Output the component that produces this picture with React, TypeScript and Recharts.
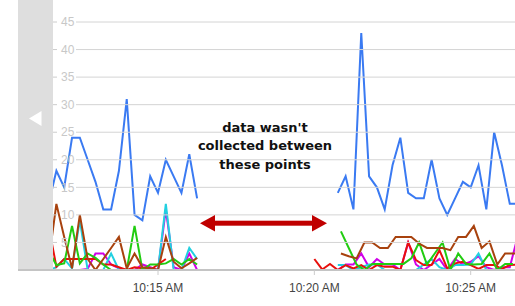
import { LineChart, Line, XAxis, YAxis } from 'recharts';

const LEFT_TIMES = [690, 705, 720, 735, 750, 765, 780, 795, 810, 825, 840, 855, 870, 885, 900, 915, 930, 945, 960, 975];
const RIGHT_TIMES = [1200, 1215, 1230, 1245, 1260, 1275, 1290, 1305, 1320, 1335, 1350, 1365, 1380, 1395, 1410, 1425, 1440, 1455, 1470, 1485, 1500, 1515, 1530, 1545, 1560, 1575, 1590];
const RIGHT_TIMES_LAG = [1206, 1221, 1236, 1251, 1266, 1281, 1296, 1311, 1326, 1341, 1356, 1371, 1386, 1401, 1416, 1431, 1446, 1461, 1476, 1491, 1506, 1521, 1536, 1551, 1566, 1581, 1596];

const X_TICKS = [900, 1200, 1500];
const X_LABELS = ['10:15 AM', '10:20 AM', '10:25 AM'];
const Y_TICKS = [5, 10, 15, 20, 25, 30, 35, 40, 45];

const BLUE_LEFT = [12, 18, 15, 24, 24, 20, 16, 11, 11, 18, 31, 10, 9, 17, 14, 20, 17, 14, 21, 13];
const BLUE_RIGHT = [null, null, null, 14, 17, 11, 43, 17, 15, 11, 19, 24, 14, 13, 13, 20, 13, 10, 13, 16, 15, 19, 11, 25, 19, 12, 12];

const RED_LEFT = [8, 0.6, 2, 2, 2, 2, 2, 1, 1, 0.5, 0, 0.5, 0.3, 0, 1, 2, null, null, null, null];
const RED_RIGHT = [2, 0.1, 1.1, 0, 0.9, 0.3, 0.9, 0, 0.9, 0.6, 0.6, 0, 5, 1.8, 0.9, 0.9, 3.6, 0.3, 1.2, 1.5, 0.9, 0.2, 0.9, 0.9, 0.2, 0.9, 1];

const BROWN_LEFT = [1.5, 12, 6, 0.3, 10, 2, 0, 2, 4, 6, 0.3, 3, 0.5, 0.3, 0, 6, 1.5, 0.3, 1.2, 2.2];
const BROWN_RIGHT = [null, null, null, 3, 2.5, 2.1, 5, 5, 4, 4, 6, 6, 6, 4.8, 4, 4, 4, 3.6, 6, 6, 8, 4, 5.2, 1, 3, 3, 3];

const GREEN_LEFT = [3.5, 0.9, 1.2, 8, 1.2, 3, 2.2, 1, 0, 0, 0, 8, 0, 1, 1, 1.2, 2, 1, 2, 1];
const GREEN_RIGHT = [null, null, null, 7, 4, 1, 0, 1.1, 1.1, 1.1, 1.1, 1.1, 2.1, 5, 1, 3, 5, 0, 3, 1.1, 1, 1.1, 3, 0, 1.1, 1.1, null];

const CYAN_LEFT = [0, 0.5, 2, 0.3, 9, 0, 0, 0, 3, 0, 0, 0, 0, 0, 0, 12, 0, 0, 4, 2];
const CYAN_RIGHT = [null, null, null, 0.9, 0.9, 0, 0.5, 1, 1, 0, 0, 0, 0, 0, 1, 2, 0.5, 0, 0.9, 0.9, 1, 3, 0, 0, 0, 0, 0];

const MAGENTA_LEFT = [0, 0, 0, 0, 0, 0.2, 3, 3, 1, 0.3, 0, 0, 1, 0.5, 0, 11, 0.5, 0, 3, 0];
const MAGENTA_RIGHT = [null, null, null, 0, 1, 1, 3, 0.5, 2, 1, 1, 0, 5, 1, 0, 1, 2, 0, 2, 1, 1.5, 2.5, 0.5, 0, 0.5, 0.5, 6];

const GAP_TIME = 1100;

function series(leftVals: (number | null)[], rightTimes: number[], rightVals: (number | null)[]) {
  const left = LEFT_TIMES.map((t, i) => ({ t, v: leftVals[i] }));
  const right = rightTimes.map((t, i) => ({ t, v: rightVals[i] }));
  return [...left, { t: GAP_TIME, v: null }, ...right];
}

const SERIES = [
  { key: 'magenta', color: '#d000e8', data: series(MAGENTA_LEFT, RIGHT_TIMES, MAGENTA_RIGHT) },
  { key: 'cyan', color: '#22d0e0', data: series(CYAN_LEFT, RIGHT_TIMES, CYAN_RIGHT) },
  { key: 'red', color: '#e8100c', data: series(RED_LEFT, RIGHT_TIMES, RED_RIGHT) },
  { key: 'green', color: '#22cc11', data: series(GREEN_LEFT, RIGHT_TIMES_LAG, GREEN_RIGHT) },
  { key: 'brown', color: '#a8420e', data: series(BROWN_LEFT, RIGHT_TIMES_LAG, BROWN_RIGHT) },
  { key: 'blue', color: '#3a7af2', data: series(BLUE_LEFT, RIGHT_TIMES, BLUE_RIGHT) },
];

const W = 515;
const H = 306;
const PLOT_LEFT = 53;
const FONT = 'Arial, "Liberation Sans", sans-serif';

function renderYTick(props: any) {
  const { y, payload, index } = props;
  return (
    <g key={`yt-${index}`}>
      <line x1={PLOT_LEFT} x2={PLOT_LEFT + 4} y1={y} y2={y} stroke="#cccccc" />
      <line x1={PLOT_LEFT + 23} x2={W} y1={y} y2={y} stroke="#d4d4d4" />
      <text x={PLOT_LEFT + 8} y={y} dy="0.35em" fill="#c8c8c8" fontSize={12} fontFamily={FONT} textAnchor="start">
        {payload.value}
      </text>
    </g>
  );
}

export default function App() {
  return (
    <div style={{ position: 'absolute', left: 0, top: 0, width: W, height: H, background: '#fff', overflow: 'hidden' }}>
      <div style={{ position: 'absolute', left: 18, top: 0, width: 35, height: 269, background: '#dedede' }} />
      <div style={{ position: 'absolute', left: 18, top: 269, width: 35, height: 2, background: '#c4c4c4' }} />
      <svg style={{ position: 'absolute', left: 0, top: 0 }} width={W} height={H}>
        <polygon points="29,118.5 41.5,111 41.5,126" fill="#ffffff" />
      </svg>
      <div style={{ position: 'absolute', left: 0, top: 0 }}>
        <LineChart width={W} height={H} margin={{ top: 22, right: 0, bottom: 0, left: PLOT_LEFT - 1 }}>
          <XAxis
            type="number"
            dataKey="t"
            domain={[698.5, 1585]}
            allowDataOverflow
            ticks={X_TICKS}
            tickFormatter={(t: number) => X_LABELS[X_TICKS.indexOf(t)]}
            height={36}
            axisLine={{ stroke: '#c4c4c4', strokeWidth: 2 }}
            tickLine={{ stroke: '#cccccc' }}
            tickSize={5}
            tickMargin={8}
            tick={{ fill: '#444444', fontSize: 12, fontFamily: FONT }}
          />
          <YAxis
            type="number"
            domain={[0, 45]}
            allowDataOverflow
            ticks={Y_TICKS}
            interval={0}
            width={1}
            axisLine={false}
            tickLine={false}
            tick={renderYTick}
          />
          {SERIES.map((s) => (
            <Line
              key={s.key}
              data={s.data}
              dataKey="v"
              type="linear"
              stroke={s.color}
              strokeWidth={2}
              dot={false}
              activeDot={false}
              isAnimationActive={false}
            />
          ))}
        </LineChart>
      </div>
      <svg style={{ position: 'absolute', left: 0, top: 0, pointerEvents: 'none' }} width={W} height={H}>
        <g fontFamily='"DejaVu Sans", Verdana, sans-serif' fontWeight="bold" fontSize={13} fill="#111111" textAnchor="middle">
          <text x={265} y={131.5}>data wasn't</text>
          <text x={265} y={150}>collected between</text>
          <text x={265} y={168.5}>these points</text>
        </g>
        <g fill="#c00000">
          <rect x={213} y={220.7} width={101} height={5} />
          <polygon points="200,223.2 215,215 215,231.5" />
          <polygon points="327,223.2 312,215 312,231.5" />
        </g>
      </svg>
    </div>
  );
}
